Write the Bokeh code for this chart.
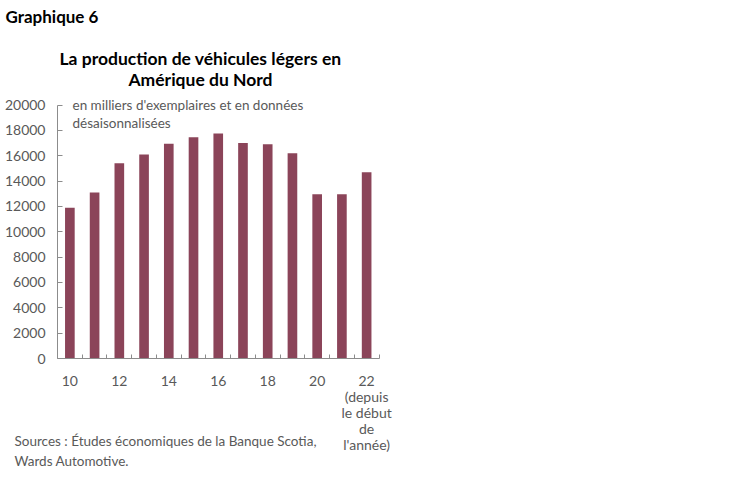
from bokeh.plotting import figure
from bokeh.models import ColumnDataSource, FixedTicker, Label, Range1d, LinearAxis
from bokeh.embed import file_html
from bokeh.resources import INLINE

# Data
years = [10, 11, 12, 13, 14, 15, 16, 17, 18, 19, 20, 21, 22]
production = [11900, 13100, 15400, 16100, 16950, 17450, 17750, 17000, 16900, 16200, 12950, 12950, 14700]
x_tick_values = [10, 12, 14, 16, 18, 20, 22]
x_tick_labels = ["10", "12", "14", "16", "18", "20", "22\n(depuis\nle début\nde\nl'année)"]
y_tick_values = [0, 2000, 4000, 6000, 8000, 10000, 12000, 14000, 16000, 18000, 20000]

chart_label = "Graphique 6"
title_lines = ["La production de véhicules légers en", "Amérique du Nord"]
unit_lines = ["en milliers d'exemplaires et en données", "désaisonnalisées"]
source_lines = ["Sources : Études économiques de la Banque Scotia,", "Wards Automotive."]

FONT = "Lato"
GREY = "#595959"
AXIS = "#8C8C8C"
BAR = "#8B4459"

# Layout (pixels in the photographed window)
W, H = 744, 476          # canvas size; canvas starts at (OX, OY)
OX, OY = 0, 0
AX_LEFT, AX_RIGHT = 57, 378.5     # x pixel of x-range 9.5 and 22.5
AX_BOTTOM, AX_TOP = 358, 104.5    # y pixel of 0 and 20000
x_lo, x_hi = years[0] - 0.5, years[-1] + 0.5
y_lo, y_hi = y_tick_values[0], y_tick_values[-1]

sx = (x_hi - x_lo) / (AX_RIGHT - AX_LEFT)
sy = (y_hi - y_lo) / (AX_BOTTOM - AX_TOP)
xr = Range1d(x_lo - (AX_LEFT - OX) * sx, x_hi + (OX + W - AX_RIGHT) * sx)
yr = Range1d(y_lo - (OY + H - AX_BOTTOM) * sy, y_hi + (AX_TOP - OY) * sy)

p = figure(width=W, height=H, output_backend="svg", toolbar_location=None,
           x_range=xr, y_range=yr, x_axis_location=None, y_axis_location=None,
           min_border=0)
p.outline_line_color = None
p.xgrid.grid_line_color = None
p.ygrid.grid_line_color = None
p.background_fill_color = "white"
p.border_fill_color = "white"

src = ColumnDataSource(dict(x=years, top=production))
p.vbar(x="x", top="top", width=0.39, bottom=0, source=src, fill_color=BAR, line_color=None)

# y axis, fixed at left edge of the categories
ya = LinearAxis(fixed_location=x_lo, bounds=(y_lo, y_hi))
ya.ticker = FixedTicker(ticks=y_tick_values)
ya.major_tick_in = 5
ya.major_tick_out = 0
ya.minor_tick_line_color = None
ya.axis_line_color = AXIS
ya.major_tick_line_color = AXIS
ya.major_label_text_font = FONT
ya.major_label_text_font_size = "14px"
ya.major_label_text_color = GREY
ya.major_label_standoff = 12
p.add_layout(ya, "left")

# x axis, fixed at zero
xa = LinearAxis(fixed_location=0, bounds=(x_lo, x_hi))
xa.ticker = FixedTicker(ticks=x_tick_values, minor_ticks=[y - 0.5 for y in years] + [years[-1] + 0.5])
xa.major_label_overrides = {v: l for v, l in zip(x_tick_values, x_tick_labels)}
xa.major_tick_in = 0
xa.major_tick_out = 0
xa.minor_tick_in = 4
xa.minor_tick_out = 0
xa.axis_line_color = AXIS
xa.minor_tick_line_color = AXIS
xa.major_label_text_font = FONT
xa.major_label_text_font_size = "14px"
xa.major_label_text_color = GREY
xa.major_label_standoff = 13
xa.major_label_text_line_height = 0.95
p.add_layout(xa, "below")

def lab(ix, iy, text, size, color=GREY, bold=False, align="left"):
    # ix, iy: pixel position in the window (y down)
    p.add_layout(Label(x=ix - OX, y=OY + H - iy, x_units="screen", y_units="screen", text=text,
                       text_font=FONT, text_font_size=size, text_color=color,
                       text_font_style="bold" if bold else "normal",
                       text_align=align, text_baseline="middle"))

lab(5, 16, chart_label, "17px", color="black", bold=True)
lab(200, 58, title_lines[0], "17.5px", color="black", bold=True, align="center")
lab(200, 79, title_lines[1], "17.5px", color="black", bold=True, align="center")
lab(72, 104, unit_lines[0], "13.5px")
lab(72, 122, unit_lines[1], "13.5px")
lab(14, 440, source_lines[0], "13.5px")
lab(14, 460, source_lines[1], "13.5px")

open("out.html", "w").write(file_html(p, INLINE))
